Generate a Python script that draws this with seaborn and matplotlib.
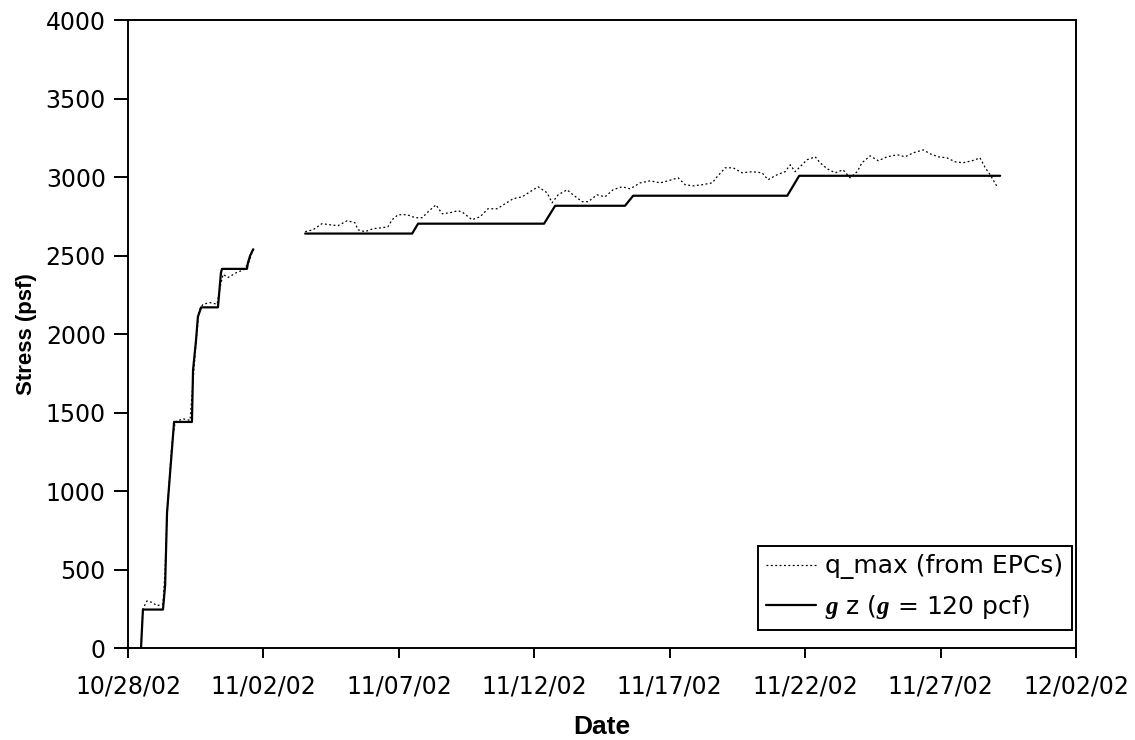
import numpy as np
import pandas as pd
import matplotlib
matplotlib.use("Agg")
import matplotlib.pyplot as plt
import matplotlib.dates as mdates
from matplotlib.lines import Line2D
import seaborn as sns

START = "2002-10-28"

# q_max measured by the EPCs: days after 10/28/02 and stress (psf)
q_days_1 = [0.48, 0.55, 0.70, 0.89, 1.07, 1.29, 1.37, 1.44, 1.51, 1.62, 1.74, 2.03, 2.29,
            2.40, 2.51, 2.62, 2.77, 3.03, 3.29, 3.40, 3.51, 3.69, 3.99, 4.28, 4.47, 4.58, 4.65]
q_vals_1 = [20, 250, 300, 290, 270, 280, 500, 850, 1030, 1300, 1440, 1460, 1450,
            1700, 1950, 2150, 2190, 2200, 2190, 2300, 2380, 2360, 2390, 2410, 2460, 2520, 2540]

q_days_2 = [6.54, 6.83, 7.16, 7.46, 7.75, 8.09, 8.38, 8.49, 8.75, 9.05, 9.38, 9.60, 9.75,
            9.97, 10.30, 10.60, 10.86, 11.08, 11.37, 11.60, 11.89, 12.19, 12.37, 12.70,
            13.00, 13.29, 13.63, 13.92, 14.22, 14.55, 14.84, 15.14, 15.47, 15.66, 15.88,
            16.21, 16.43, 16.77, 16.99, 17.32, 17.61, 17.91, 18.24, 18.54, 18.91, 19.28,
            19.65, 19.94, 20.31, 20.57, 20.86, 21.20, 21.57, 21.75, 22.05, 22.34, 22.67,
            23.04, 23.41, 23.63, 23.97, 24.26, 24.45, 24.63, 25.07, 25.37, 25.55, 25.81,
            26.11, 26.40, 26.66, 26.92, 27.10, 27.40, 27.70, 28.03, 28.40, 28.69, 28.99,
            29.36, 29.62, 29.91, 30.24, 30.54, 30.83, 31.17, 31.46, 31.65, 31.83, 32.09]
q_vals_2 = [2652, 2664, 2703, 2696, 2690, 2722, 2709, 2664, 2652, 2671, 2677, 2684, 2728,
            2760, 2760, 2741, 2741, 2779, 2823, 2766, 2773, 2786, 2773, 2728,
            2747, 2798, 2798, 2830, 2862, 2874, 2906, 2938, 2900, 2836, 2887,
            2919, 2887, 2843, 2843, 2887, 2874, 2919, 2938, 2925, 2963, 2976,
            2963, 2976, 2995, 2951, 2944, 2951, 2963, 3002, 3059, 3059, 3027,
            3034, 3027, 2983, 3015, 3034, 3078, 3034, 3110, 3129, 3091, 3053,
            3027, 3046, 2995, 3034, 3091, 3135, 3104, 3129, 3142, 3129, 3154,
            3173, 3148, 3129, 3122, 3097, 3091, 3104, 3122, 3059, 3015, 2938]

# overburden gamma*z (gamma = 120 pcf)
g_days_1 = [0.48, 0.55, 1.29, 1.37, 1.44, 1.51, 1.70, 2.36, 2.40, 2.51, 2.58, 2.70,
            3.32, 3.43, 3.47, 4.39, 4.43, 4.51, 4.62]
g_vals_1 = [0, 245, 245, 400, 860, 1020, 1440, 1440, 1770, 1960, 2110, 2170,
            2170, 2390, 2415, 2415, 2455, 2500, 2540]
g_days_2 = [6.54, 10.49, 10.71, 15.36, 15.77, 18.35, 18.65, 24.34, 24.78, 32.20]
g_vals_2 = [2640, 2640, 2703, 2703, 2817, 2817, 2881, 2881, 3008, 3008]

x_ticks = pd.date_range("2002-10-28", "2002-12-02", freq="5D")


def to_frame(days, vals):
    t = pd.Timestamp(START) + pd.to_timedelta(days, unit="D")
    return pd.DataFrame({"Date": t, "Stress": vals})


sns.set_style("white")
plt.rcParams["font.family"] = ["DejaVu Sans"]
plt.rcParams["text.color"] = "black"
plt.rcParams["axes.labelcolor"] = "black"
plt.rcParams["mathtext.fontset"] = "custom"
plt.rcParams["mathtext.it"] = "Liberation Serif:italic:bold"

fig = plt.figure(figsize=(11.35, 7.4), dpi=100)
ax = fig.add_axes([0.1128, 0.1243, 0.8352, 0.8486])

dot_kw = dict(color="black", linewidth=0.9, linestyle=(0, (1.5, 2.0)))
solid_kw = dict(color="black", linewidth=1.6)

for d, v in [(q_days_1, q_vals_1), (q_days_2, q_vals_2)]:
    sns.lineplot(data=to_frame(d, v), x="Date", y="Stress", ax=ax, sort=False,
                 estimator=None, **dot_kw)
for d, v in [(g_days_1, g_vals_1), (g_days_2, g_vals_2)]:
    sns.lineplot(data=to_frame(d, v), x="Date", y="Stress", ax=ax, sort=False,
                 estimator=None, **solid_kw)

ax.set_xlim(x_ticks[0], x_ticks[-1])
ax.set_ylim(0, 4000)
ax.set_xticks(x_ticks)
ax.xaxis.set_major_formatter(mdates.DateFormatter("%m/%d/%y"))
ax.set_yticks(np.arange(0, 4001, 500))

for s in ax.spines.values():
    s.set_color("black")
    s.set_linewidth(1.4)
ax.tick_params(axis="x", direction="out", length=7, width=1.4, colors="black",
               labelsize=17, pad=12, bottom=True)
ax.tick_params(axis="y", direction="out", length=10, width=1.4, colors="black",
               labelsize=17, pad=6, left=True)

ax.set_xlabel("Date", fontsize=19, fontweight="bold", labelpad=12, color="black",
              family=["Liberation Sans", "DejaVu Sans"])
ax.set_ylabel("Stress (psf)", fontsize=16, fontweight="bold", labelpad=6, color="black",
              family=["Liberation Sans", "DejaVu Sans"])

handles = [Line2D([], [], **dot_kw), Line2D([], [], **solid_kw)]
labels = ["q_max (from EPCs)", r"$\mathit{g}$ z ($\mathit{g}$ = 120 pcf)"]
leg = ax.legend(handles, labels, loc="lower right", bbox_to_anchor=(0.9958, 0.0287),
                borderaxespad=0, fontsize=18, frameon=True, fancybox=False,
                framealpha=1, edgecolor="black", handlelength=2.0, handletextpad=0.35,
                borderpad=0.35, labelspacing=0.55, labelcolor="black")
leg.get_frame().set_linewidth(1.4)

fig.savefig("out.png", dpi=100, facecolor="white")
